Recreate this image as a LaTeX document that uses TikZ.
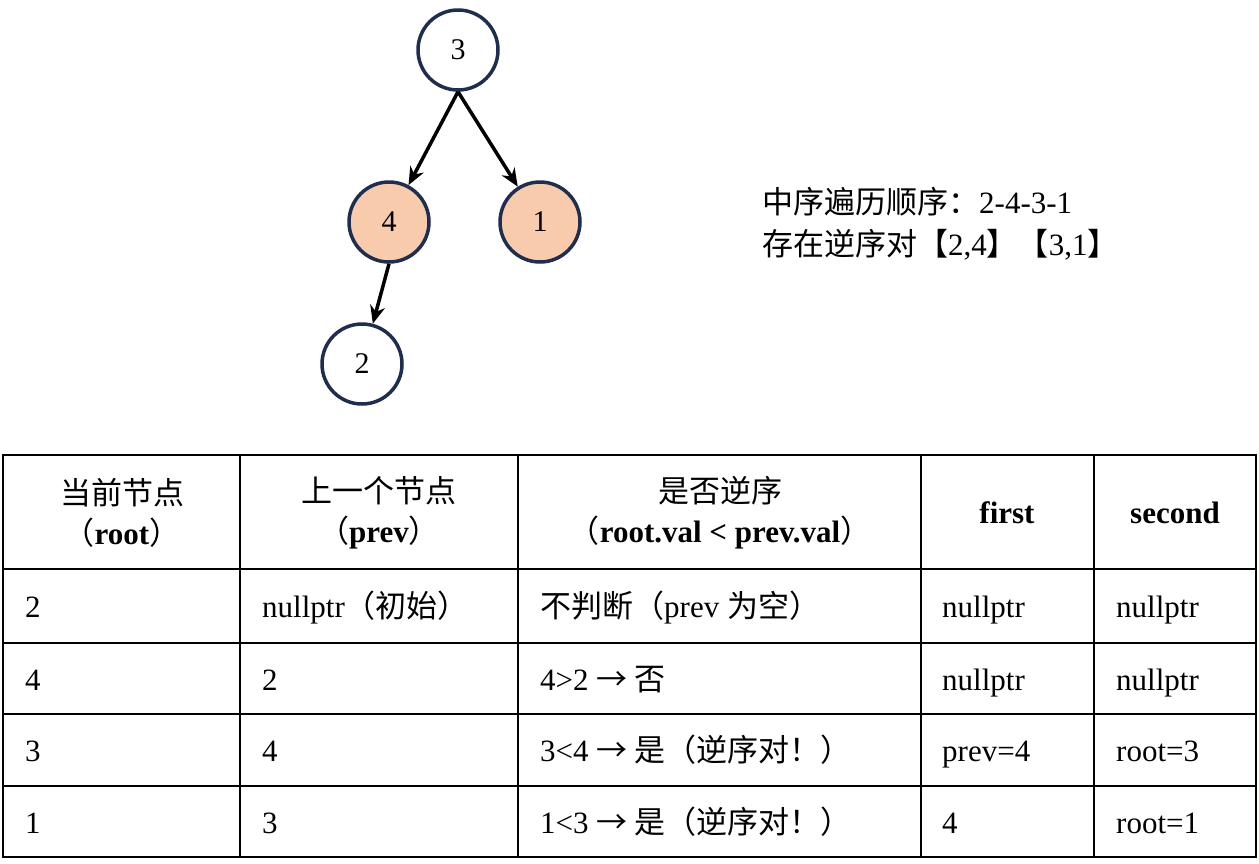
\documentclass[tikz,border=0pt]{standalone}
\usepackage{fontspec}
\setmainfont{Liberation Serif}
\newfontfamily\cjk{Noto Sans CJK SC}
\usetikzlibrary{arrows.meta}
\definecolor{navy}{HTML}{1F2D4E}
\definecolor{peach}{HTML}{F8CBAD}
\begin{document}
\begin{tikzpicture}[x=1pt,y=-1pt,
  tn/.style={circle,draw=navy,line width=3.5pt,minimum size=80pt,inner sep=0pt,font=\fontsize{30}{34}\selectfont},
  hl/.style={tn,fill=peach},
  ed/.style={line width=3.5pt,-{Stealth[length=18pt,width=15pt]}},
  cell/.style={anchor=base west,font=\fontsize{31}{34}\selectfont,inner sep=0pt},
  hd/.style={anchor=center,align=center,font=\fontsize{31}{40}\selectfont,inner sep=0pt}]
\useasboundingbox (0,0) rectangle (1259,863);
\node[tn] (n3) at (458,50) {3};
\node[hl] (n4) at (389,222) {4};
\node[hl] (n1) at (540,222) {1};
\node[tn] (n2) at (362,364) {2};
\draw[ed] (n3.south) -- (n4);
\draw[ed] (n3.south) -- (n1);
\draw[ed] (n4.south) -- (n2);
\node[cell] (t1) at (762,213) {{\cjk 中序遍历顺序：}2-4-3-1};
\node[cell] (t2) at (762,255) {{\cjk 存在逆序对【}2,4{\cjk 】【}3,1{\cjk 】}};
\draw[line width=1.5pt] (3,455) rectangle (1256,857);
\foreach \x in {240,518,921,1094} \draw[line width=1.5pt] (\x,455) -- (\x,857);
\foreach \y in {569,643,714,786} \draw[line width=1.5pt] (3,\y) -- (1256,\y);
\node[hd] (h1) at (122,513) {{\cjk 当前节点}\\{\cjk （}\textbf{root}{\cjk ）}};
\node[hd] (h2) at (379,513) {{\cjk 上一个节点}\\{\cjk （}\textbf{prev}{\cjk ）}};
\node[hd] (h3) at (720,513) {{\cjk 是否逆序}\\{\cjk （}\textbf{root.val < prev.val}{\cjk ）}};
\node[hd] (h4) at (1007,513) {\textbf{first}};
\node[hd] (h5) at (1175,513) {\textbf{second}};
\node[cell] (a1) at (25,617) {2};
\node[cell] (b1) at (262,617) {nullptr{\cjk （初始）}};
\node[cell] (c1) at (540,617) {{\cjk 不判断（}prev {\cjk 为空）}};
\node[cell] (d1) at (942,617) {nullptr};
\node[cell] (e1) at (1116,617) {nullptr};
\node[cell] (a2) at (25,690) {4};
\node[cell] (b2) at (262,690) {2};
\node[cell] (c2) at (540,690) {4>2 {\cjk → 否}};
\node[cell] (d2) at (942,690) {nullptr};
\node[cell] (e2) at (1116,690) {nullptr};
\node[cell] (a3) at (25,761) {3};
\node[cell] (b3) at (262,761) {4};
\node[cell] (c3) at (540,761) {3<4 {\cjk → 是（逆序对！）}};
\node[cell] (d3) at (942,761) {prev=4};
\node[cell] (e3) at (1116,761) {root=3};
\node[cell] (a4) at (25,833) {1};
\node[cell] (b4) at (262,833) {3};
\node[cell] (c4) at (540,833) {1<3 {\cjk → 是（逆序对！）}};
\node[cell] (d4) at (942,833) {4};
\node[cell] (e4) at (1116,833) {root=1};
\end{tikzpicture}
\end{document}
